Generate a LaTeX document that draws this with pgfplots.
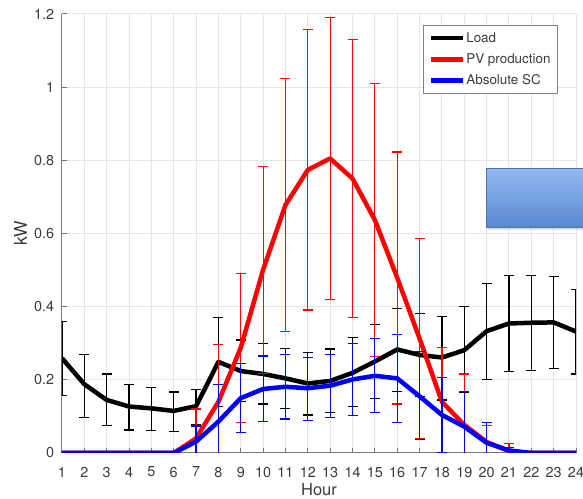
\documentclass[border=0pt]{standalone}
\usepackage{fontspec}
\setmainfont{TeX Gyre Heros}
\usepackage{pgfplots}
\pgfplotsset{compat=1.18}
\usepackage{pgfplotstable}
\usetikzlibrary{shadows}

\definecolor{axgray}{RGB}{120,120,120}
\definecolor{txtgray}{RGB}{60,60,60}
\definecolor{boxtop}{RGB}{148,184,240}
\definecolor{boxbot}{RGB}{88,136,208}
\definecolor{boxedge}{RGB}{72,116,180}

% hour, mean, error above, error below
\pgfplotstableread{
h y ep em
1 0.259 0.101 0.102
2 0.188 0.081 0.090
3 0.145 0.071 0.069
4 0.127 0.061 0.064
5 0.122 0.056 0.061
6 0.115 0.052 0.056
7 0.128 0.046 0.050
8 0.249 0.122 0.122
9 0.224 0.085 0.084
10 0.216 0.083 0.082
11 0.204 0.082 0.083
12 0.190 0.085 0.086
13 0.197 0.087 0.086
14 0.219 0.097 0.091
15 0.250 0.102 0.101
16 0.283 0.112 0.114
17 0.268 0.114 0.114
18 0.261 0.113 0.116
19 0.281 0.119 0.116
20 0.333 0.131 0.132
21 0.354 0.132 0.132
22 0.356 0.130 0.131
23 0.357 0.125 0.127
24 0.332 0.115 0.116
}\loadtab

\pgfplotstableread{
h y ep em
1 0 0 0
2 0 0 0
3 0 0 0
4 0 0 0
5 0 0 0
6 0 0 0
7 0.040 0.080 0.080
8 0.140 0.157 0.157
9 0.288 0.203 0.205
10 0.501 0.283 0.283
11 0.678 0.346 0.346
12 0.774 0.383 0.383
13 0.805 0.385 0.385
14 0.750 0.381 0.380
15 0.637 0.373 0.374
16 0.479 0.344 0.345
17 0.313 0.274 0.274
18 0.140 0.148 0.148
19 0.077 0.139 0.139
20 0.030 0.045 0.045
21 0.005 0.021 0.021
22 0 0 0
23 0 0 0
24 0 0 0
}\pvtab

\pgfplotstableread{
h y ep em
1 0 0 0
2 0 0 0
3 0 0 0
4 0 0 0
5 0 0 0
6 0 0 0
7 0.031 0.043 0.043
8 0.086 0.102 0.102
9 0.150 0.095 0.094
10 0.175 0.090 0.090
11 0.181 0.089 0.088
12 0.177 0.084 0.089
13 0.184 0.086 0.087
14 0.201 0.099 0.099
15 0.211 0.102 0.101
16 0.204 0.120 0.121
17 0.155 0.122 0.119
18 0.104 0.102 0.102
19 0.072 0.096 0.096
20 0.028 0.055 0.055
21 0.007 0.008 0.008
22 0 0 0
23 0 0 0
24 0 0 0
}\sctab

\pgfplotsset{
  errstyle/.style={
    error bars/y dir=both,
    error bars/y explicit,
    error bars/error bar style={line width=1.2pt, #1},
    error bars/error mark options={rotate=90, mark size=5pt, line width=1.2pt, #1},
  },
}

\begin{document}
\begin{tikzpicture}
\begin{axis}[
  name=ax, at={(0,0)}, anchor=south west,
  scale only axis, width=514pt, height=439pt,
  xmin=1, xmax=24, ymin=0, ymax=1.2,
  xtick={1,...,24},
  ytick={0,0.2,0.4,0.6,0.8,1,1.2},
  axis x line*=bottom, axis y line*=left,
  axis line style={axgray, line width=1pt},
  tick align=inside, major tick length=5pt,
  tick style={axgray, line width=1pt},
  grid=major,
  major grid style={black!10, line width=1pt},
  /pgf/number format/assume math mode=true,
  tick label style={font=\fontsize{14.4}{17}\selectfont, text=txtgray},
  xticklabel style={inner sep=0pt, anchor=north, yshift=-13.7pt},
  yticklabel style={inner sep=0pt, anchor=east, xshift=-7.7pt},
  xlabel={Hour}, ylabel={kW},
  xlabel style={at={([yshift=-30.5pt]axis description cs:0.5,0)}, anchor=north,
    inner sep=0pt, font=\fontsize{16.5}{19}\selectfont, text=txtgray},
  ylabel style={at={([xshift=-35pt]axis description cs:0,0.5)}, anchor=base,
    rotate=0, inner sep=0pt, font=\fontsize{17.5}{20}\selectfont, text=txtgray},
  legend image code/.code={\draw[#1, line width=4.5pt] (0pt,0pt) -- (31.6pt,0pt);},
  legend cell align=left,
  legend style={at={(0.703,0.975)}, anchor=north west,
    draw=black!50, line width=0.8pt, fill=white,
    font=\fontsize{13.4}{15}\selectfont, text=txtgray,
    inner xsep=5pt, inner ysep=5pt, row sep=6pt,
    nodes={inner xsep=1.5pt, inner ysep=2pt},
    column 2/.style={nodes={text width=89pt}}},
]
\addplot[black, line width=4.5pt, line join=round, errstyle=black]
  table[x=h, y=y, y error plus=ep, y error minus=em] {\loadtab};
\addlegendentry{Load}
\addplot[red, line width=4.5pt, line join=round, errstyle=red]
  table[x=h, y=y, y error plus=ep, y error minus=em] {\pvtab};
\addlegendentry{PV production}
\addplot[blue, line width=4.5pt, line join=round, errstyle=blue]
  table[x=h, y=y, y error plus=ep, y error minus=em] {\sctab};
\addlegendentry{Absolute SC}
\end{axis}

% shaded callout box on the right
\draw[draw=boxedge, line width=1pt, top color=boxtop, bottom color=boxbot,
      drop shadow={shadow xshift=1pt, shadow yshift=-2pt, opacity=0.25}]
  ([shift={(424.7pt,225.3pt)}]ax.south west) rectangle ([shift={(540pt,284pt)}]ax.south west);

\pgfresetboundingbox
\path[use as bounding box] ([shift={(-62pt,-46pt)}]ax.south west)
  rectangle ([shift={(7pt,14pt)}]ax.north east);
\end{tikzpicture}
\end{document}
